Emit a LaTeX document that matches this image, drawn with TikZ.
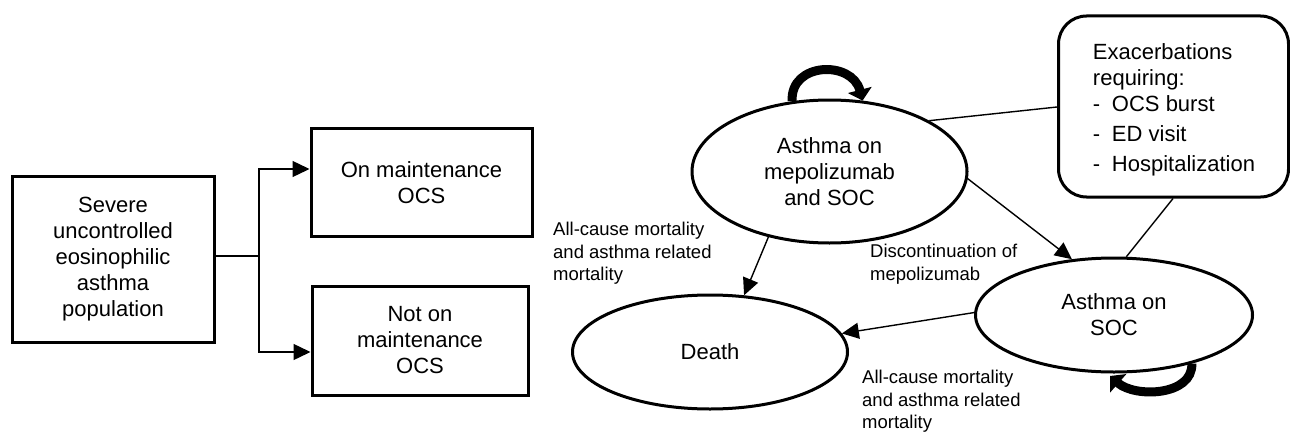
\documentclass[tikz,border=0pt]{standalone}
\usepackage{fontspec}
\setmainfont{Liberation Sans}
\usetikzlibrary{shapes.geometric,arrows.meta}
\begin{document}
\begin{tikzpicture}[x=1pt,y=-1pt,
  box/.style={draw,line width=3pt,align=center,inner sep=0pt,font=\fontsize{22}{26}\selectfont},
  state/.style={draw,ellipse,line width=3pt,align=center,inner sep=0pt,font=\fontsize{22}{26}\selectfont},
  conn/.style={line width=1.4pt},
  arr/.style={conn,-{Triangle[length=17pt,width=16pt]}},
  loop/.style={line width=9pt,-{Triangle[length=11pt,width=24pt]}},
  lab/.style={align=left,inner sep=0pt,anchor=north west,font=\fontsize{18.5}{22.5}\selectfont}]
\useasboundingbox (0,0) rectangle (1290,436);
% left part
\node[box,minimum width=202pt,minimum height=166pt] (pop) at (113,259)
  {Severe\\uncontrolled\\eosinophilic\\asthma\\population};
\node[box,minimum width=221pt,minimum height=108pt] (on) at (421.5,182) {};
\node[align=center,inner sep=0pt,font=\fontsize{22}{26}\selectfont] (ontxt) at (421.5,183) {On maintenance\\OCS};
\node[box,minimum width=216pt,minimum height=109pt] (noton) at (420,340.5)
  {Not on\\maintenance\\OCS};
\coordinate (split) at (259,256);
\draw[conn] (pop.east |- split) -- (split);
\draw[arr] (split) |- (on.west |- 0,169);
\draw[arr] (split) |- (noton.west |- 0,352);
% right part
\node[state,minimum width=275pt,minimum height=143pt] (mep) at (829.5,171.5)
  {Asthma on\\mepolizumab\\and SOC};
\node[state,minimum width=275pt,minimum height=114pt] (death) at (710,352) {Death};
\node[state,minimum width=277pt,minimum height=114pt] (soc) at (1114,315)
  {Asthma on\\SOC};
\node[draw,line width=3pt,rounded corners=28pt,minimum width=230pt,minimum height=181pt,
  align=left,inner sep=0pt,font=\fontsize{22}{26}\selectfont] (exa) at (1173.5,106.5)
  {};
\node[align=left,inner sep=0pt,font=\fontsize{22}{26}\selectfont] (exatxt) at (1174,109.5)
  {Exacerbations\\requiring:\\\makebox[19pt][l]{-}OCS burst\\[4pt]\makebox[19pt][l]{-}ED visit\\[4pt]\makebox[19pt][l]{-}Hospitalization};
% connectors
\draw[conn] (exa.west |- 0,107) -- (mep.27);
\draw[conn] (exa.south -| 1173,0) -- (soc.78);
\draw[arr] (mep.-3) -- (soc.127);
\draw[arr] (mep.-133) -- (death.59);
\draw[arr] (soc.179) -- (death.8);
% self loops
\draw[loop] (mep.118.6) .. controls (790,62) and (852,60) .. (mep.65);
\coordinate (socend) at (1110,376);
\draw[loop] (soc.-32) .. controls (1193,396) and (1135,398) .. (socend);
% labels
\node[lab] (l1) at (553,222) {All-cause mortality\\and asthma related\\mortality};
\node[lab] (l2) at (870,244) {Discontinuation of\\mepolizumab};
\node[lab] (l3) at (862,370) {All-cause mortality\\and asthma related\\mortality};
\end{tikzpicture}
\end{document}
